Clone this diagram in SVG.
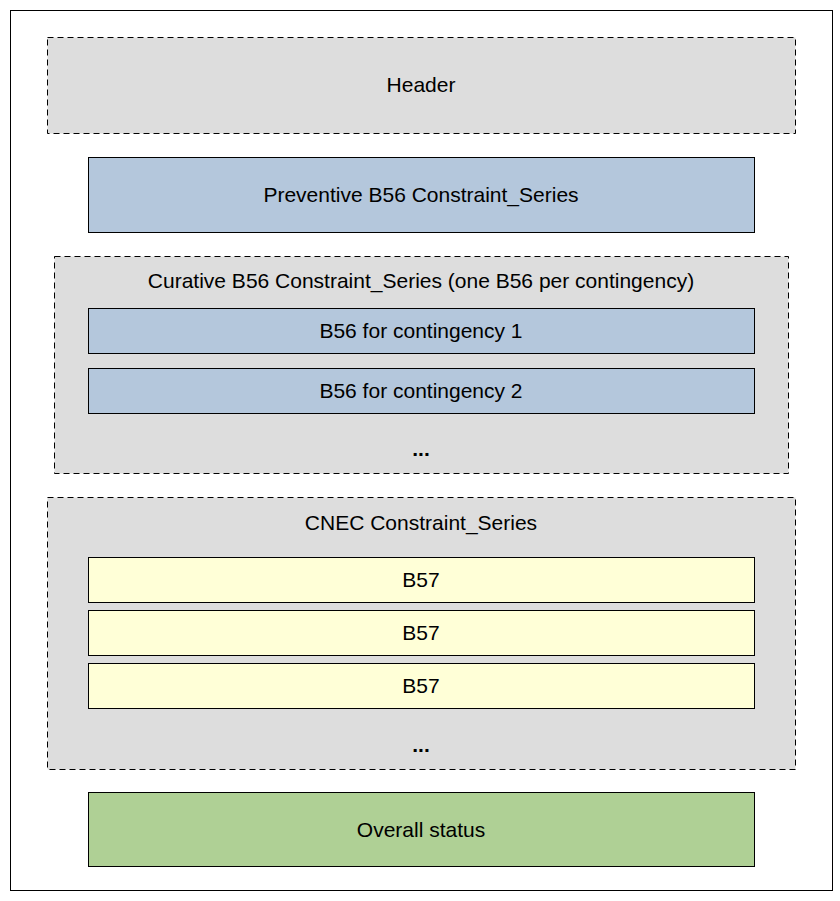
<svg xmlns="http://www.w3.org/2000/svg" width="840" height="901" viewBox="0 0 840 901">
<style>
.d{fill:#dddddd;stroke:#000;stroke-width:1;stroke-dasharray:6,4}
.b{fill:#b4c7dc;stroke:#000;stroke-width:1}
.y{fill:#ffffd7;stroke:#000;stroke-width:1}
.g{fill:#afd095;stroke:#000;stroke-width:1}
text{font-family:"Liberation Sans",Arial,sans-serif;font-size:21px;text-anchor:middle;fill:#000}
.e{font-weight:bold}
</style>
<rect x="10.5" y="10.5" width="822" height="880" fill="#fff" stroke="#000"/>
<g id="header"><rect class="d" x="47.5" y="37.5" width="748" height="96"/><text x="421" y="92">Header</text></g>
<g id="preventive"><rect class="b" x="88.5" y="157.5" width="666" height="75"/><text x="421" y="202">Preventive B56 Constraint_Series</text></g>
<g id="curative"><rect class="d" x="54.5" y="256.5" width="734" height="217"/><text x="421" y="288">Curative B56 Constraint_Series (one B56 per contingency)</text>
<g id="c1"><rect class="b" x="88.5" y="308.5" width="666" height="45"/><text x="421" y="338">B56 for contingency 1</text></g>
<g id="c2"><rect class="b" x="88.5" y="368.5" width="666" height="45"/><text x="421" y="398">B56 for contingency 2</text></g>
<text class="e" x="421" y="456">...</text></g>
<g id="cnec"><rect class="d" x="47.5" y="497.5" width="748" height="272"/><text x="421" y="530">CNEC Constraint_Series</text>
<g id="b1"><rect class="y" x="88.5" y="557.5" width="666" height="45"/><text x="421" y="587">B57</text></g>
<g id="b2"><rect class="y" x="88.5" y="610.5" width="666" height="45"/><text x="421" y="640">B57</text></g>
<g id="b3"><rect class="y" x="88.5" y="663.5" width="666" height="45"/><text x="421" y="693">B57</text></g>
<text class="e" x="421" y="752">...</text></g>
<g id="status"><rect class="g" x="88.5" y="792.5" width="666" height="74"/><text x="421" y="837">Overall status</text></g>
<g id="connectors"/>
</svg>
